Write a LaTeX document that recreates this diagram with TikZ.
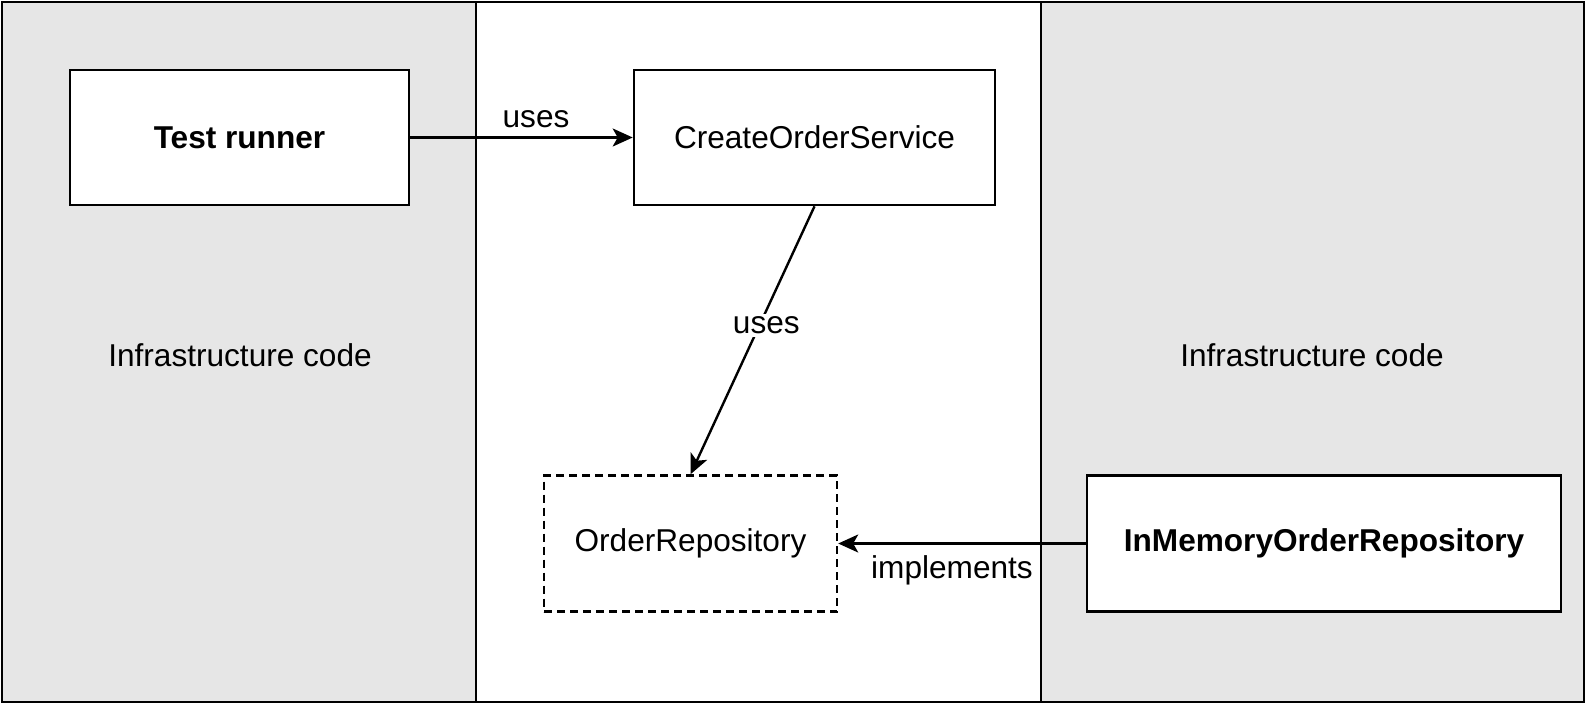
\documentclass[tikz,border=0pt]{standalone}
\usepackage{fontspec}
\setmainfont{Liberation Sans}
\usetikzlibrary{arrows.meta}
\begin{document}
\begin{tikzpicture}[x=1pt,y=-1pt,
  txt/.style={font=\fontsize{31.6}{38}\selectfont, inner sep=2pt},
  boxn/.style={draw, line width=2.6pt, fill=white, rectangle, inner sep=0pt, font=\fontsize{31.6}{38}\selectfont},
  dboxn/.style={boxn, line width=2.4pt, dash pattern=on 8pt off 5pt},
  conn/.style={line width=2.4pt, -{Stealth[length=20pt,width=18pt,inset=5pt]}},
  panel/.style={fill=panelgray}
]
\definecolor{panelgray}{HTML}{E6E6E6}
\useasboundingbox (0,0) rectangle (1586,704);
% panels
\fill[panel] (2,2) rectangle (476,702);
\fill[panel] (1041,2) rectangle (1584,702);
\draw[line width=2.6pt] (476,2) -- (476,702);
\draw[line width=2.6pt] (1041,2) -- (1041,702);
\draw[line width=2.8pt] (2,2) rectangle (1584,702);
% panel labels
\node[txt] (infl) at (240,355) {Infrastructure code};
\node[txt] (infr) at (1312,355) {Infrastructure code};
% boxes
\node[boxn, minimum width=339pt, minimum height=135pt, font=\fontsize{31.6}{38}\selectfont\bfseries] (tr) at (239.5,137.5) {Test runner};
\node[boxn, minimum width=361pt, minimum height=135pt] (cos) at (814.5,137.5) {CreateOrderService};
\node[dboxn, minimum width=293pt, minimum height=136pt] (or) at (690.5,543.5) {OrderRepository};
\node[boxn, minimum width=474pt, minimum height=136pt, font=\fontsize{31.6}{38}\selectfont\bfseries] (imr) at (1324,543.5) {InMemoryOrderRepository};
% connectors
\draw[conn] (tr.east) -- (cos.west);
\node[txt] (l1) at (536,119) {uses};
\draw[conn] (cos.south) -- (or.north) node[pos=0.445, txt, fill=white, inner sep=3pt, xshift=7pt] (l2) {uses};
\draw[conn] (imr.west) -- (or.east);
\node[txt] (l3) at (952,570) {implements};
\end{tikzpicture}
\end{document}
